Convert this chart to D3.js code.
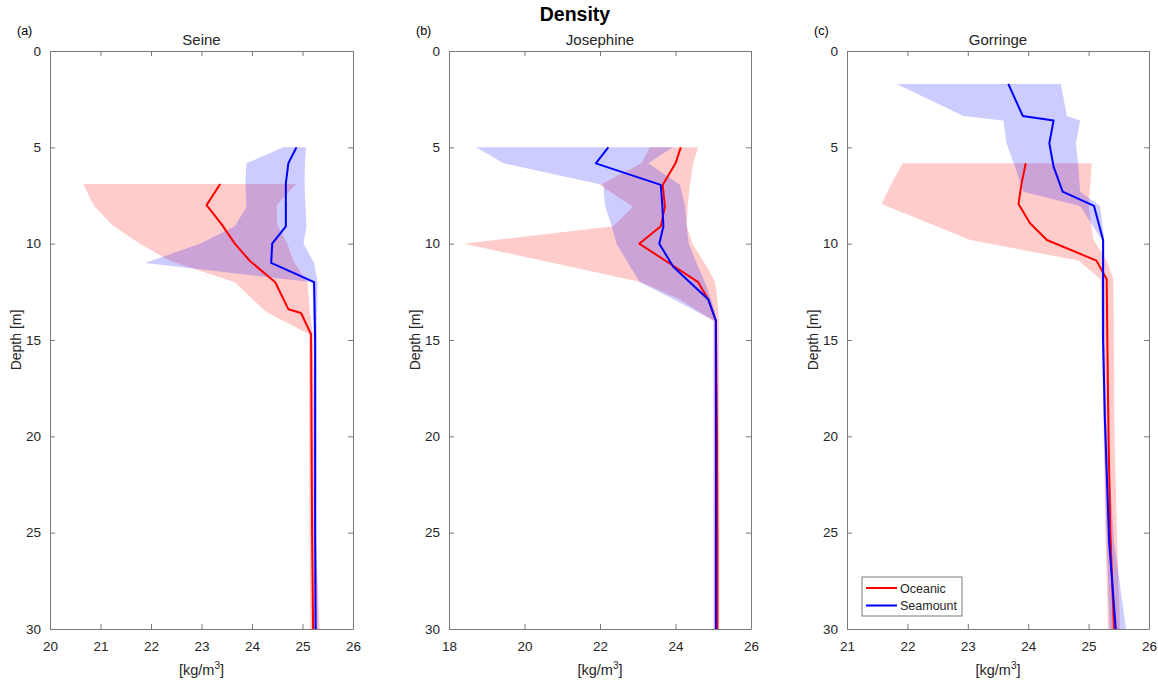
<!DOCTYPE html>
<html>
<head>
<meta charset="utf-8">
<script src="https://cdn.jsdelivr.net/npm/d3@7"></script>
<style>
  body { margin: 0; background: #fff; }
  text { font-family: "Liberation Sans", Arial, sans-serif; fill: #262626; }
</style>
</head>
<body>
<div id="chart"></div>
<script>
'use strict'

// ---- data ----
// depth tick labels (shared)
const depthTicks = [0, 5, 10, 15, 20, 25, 30]

// (a) Seine
const seineTicks = [20, 21, 22, 23, 24, 25, 26]
const seineOceDepth = [6.9, 8.0, 9.0, 10.0, 10.9, 12.0, 13.4, 13.6, 14.7, 20, 25, 30]
const seineOceMean  = [23.37, 23.10, 23.40, 23.66, 23.96, 24.46, 24.72, 24.97, 25.17, 25.18, 25.19, 25.21]
const seineOceLo    = [20.66, 20.86, 21.22, 21.78, 22.38, 23.66, 24.22, 24.32, 25.13, 25.13, 25.14, 25.15]
const seineOceHi    = [24.87, 24.49, 24.50, 24.70, 24.82, 25.10, 25.14, 25.15, 25.20, 25.24, 25.26, 25.34]
const seineSeaDepth = [5.0, 5.83, 6.87, 8.1, 9.1, 10.0, 11.0, 12.0, 15, 20, 25, 30]
const seineSeaMean  = [24.88, 24.72, 24.67, 24.67, 24.67, 24.40, 24.38, 25.23, 25.25, 25.25, 25.25, 25.26]
const seineSeaLo    = [24.62, 23.89, 23.87, 23.89, 23.66, 22.97, 21.88, 25.20, 25.22, 25.22, 25.22, 25.22]
const seineSeaHi    = [25.07, 25.05, 25.04, 25.06, 25.08, 25.02, 25.23, 25.30, 25.28, 25.28, 25.28, 25.30]

// (b) Josephine
const josephineTicks = [18, 20, 22, 24, 26]
const josephineOceDepth = [5.0, 5.83, 6.95, 8.08, 9.1, 10.0, 11.2, 12.0, 12.9, 14.0, 20, 25, 30]
const josephineOceMean  = [24.14, 24.00, 23.66, 23.72, 23.61, 23.04, 23.98, 24.60, 24.87, 25.07, 25.10, 25.11, 25.11]
const josephineOceLo    = [23.32, 23.10, 22.00, 22.87, 22.35, 18.40, 21.22, 23.10, 24.12, 25.00, 25.00, 25.00, 25.00]
const josephineOceHi    = [24.60, 24.47, 24.38, 24.32, 24.30, 24.45, 24.83, 25.05, 25.11, 25.15, 25.16, 25.16, 25.16]
const josephineSeaDepth = [5.0, 5.83, 6.95, 8.0, 9.1, 10.0, 11.2, 12.0, 12.9, 14.0, 20, 25, 30]
const josephineSeaMean  = [22.22, 21.89, 23.61, 23.65, 23.68, 23.57, 23.94, 24.38, 24.87, 25.07, 25.07, 25.07, 25.07]
const josephineSeaLo    = [18.72, 19.44, 22.09, 22.13, 22.31, 22.44, 22.80, 23.06, 23.96, 25.02, 25.04, 25.04, 25.04]
const josephineSeaHi    = [23.93, 23.28, 24.12, 24.25, 24.30, 24.35, 24.60, 24.78, 24.95, 25.10, 25.10, 25.10, 25.10]

// (c) Gorringe
const gorringeTicks = [21, 22, 23, 24, 25, 26]
const gorringeOceDepth = [5.83, 6.87, 7.94, 8.94, 9.81, 10.88, 11.85, 15, 20, 25, 30]
const gorringeOceMean  = [23.96, 23.89, 23.84, 24.03, 24.31, 25.13, 25.30, 25.31, 25.33, 25.36, 25.42]
const gorringeOceLo    = [21.92, 21.74, 21.57, 22.36, 23.04, 24.83, 25.20, 25.22, 25.25, 25.28, 25.32]
const gorringeOceHi    = [25.05, 25.03, 25.00, 25.04, 25.08, 25.30, 25.41, 25.42, 25.43, 25.47, 25.52]
const gorringeSeaDepth = [1.71, 3.37, 3.61, 4.79, 6.0, 7.3, 8.04, 9.81, 15, 19.15, 25.46, 30]
const gorringeSeaMean  = [23.67, 23.91, 24.42, 24.35, 24.42, 24.57, 25.09, 25.24, 25.24, 25.27, 25.34, 25.45]
const gorringeSeaLo    = [21.82, 22.93, 23.59, 23.64, 23.78, 23.92, 24.86, 25.22, 25.22, 25.25, 25.30, 25.35]
const gorringeSeaHi    = [24.54, 24.64, 24.86, 24.79, 24.83, 24.86, 25.19, 25.26, 25.26, 25.29, 25.42, 25.62]

const seriesNames = ['Oceanic', 'Seamount']
const seriesColors = ['#ff0000', '#0000ff']

// zip depth + mean + lo + hi into row objects
const rows = (dep, mean, lo, hi) => dep.map((d, i) => ({ depth: d, mean: mean[i], lo: lo[i], hi: hi[i] }))

const panels = [
  { tag: '(a)', name: 'Seine', ticks: seineTicks, left: 50, right: 353,
    oce: rows(seineOceDepth, seineOceMean, seineOceLo, seineOceHi),
    sea: rows(seineSeaDepth, seineSeaMean, seineSeaLo, seineSeaHi) },
  { tag: '(b)', name: 'Josephine', ticks: josephineTicks, left: 449, right: 751,
    oce: rows(josephineOceDepth, josephineOceMean, josephineOceLo, josephineOceHi),
    sea: rows(josephineSeaDepth, josephineSeaMean, josephineSeaLo, josephineSeaHi) },
  { tag: '(c)', name: 'Gorringe', ticks: gorringeTicks, left: 847, right: 1149,
    oce: rows(gorringeOceDepth, gorringeOceMean, gorringeOceLo, gorringeOceHi),
    sea: rows(gorringeSeaDepth, gorringeSeaMean, gorringeSeaLo, gorringeSeaHi) }
]

// ---- layout ----
const W = 1158, H = 681
const plotTop = 51, plotBottom = 629
const axisColor = '#7a7a7a'
const tickLen = 5

const svg = d3.select('#chart').append('svg')
  .attr('width', W).attr('height', H)

svg.append('text')
  .attr('x', 575).attr('y', 21)
  .attr('text-anchor', 'middle')
  .style('font-size', '19.5px').style('font-weight', 'bold')
  .style('fill', '#000')
  .text('Density')

panels.forEach((p, pi) => {
  const x = d3.scaleLinear().domain([p.ticks[0], p.ticks[p.ticks.length - 1]]).range([p.left, p.right])
  const y = d3.scaleLinear().domain([0, 30]).range([plotTop, plotBottom])
  const g = svg.append('g')

  const clipId = 'clip' + pi
  g.append('clipPath').attr('id', clipId).append('rect')
    .attr('x', p.left).attr('y', plotTop).attr('width', p.right - p.left).attr('height', plotBottom - plotTop)

  const plot = g.append('g').attr('clip-path', `url(#${clipId})`)

  const band = d3.area()
    .y(d => y(d.depth))
    .x0(d => x(d.lo))
    .x1(d => x(d.hi))
  const line = d3.line()
    .x(d => x(d.mean))
    .y(d => y(d.depth))

  // shaded ranges first, then the mean profiles
  const sets = [p.oce, p.sea]
  sets.forEach((s, si) => {
    plot.append('path').datum(s)
      .attr('d', band)
      .attr('fill', seriesColors[si])
      .attr('fill-opacity', 0.2)
      .attr('stroke', 'none')
  })
  sets.forEach((s, si) => {
    plot.append('path').datum(s)
      .attr('d', line)
      .attr('fill', 'none')
      .attr('stroke', seriesColors[si])
      .attr('stroke-width', 2)
      .attr('stroke-linejoin', 'round')
  })

  // axes: bottom/left with labels, top/right mirrored ticks (box on)
  const styleAxis = (sel) => {
    sel.select('.domain').attr('stroke', axisColor)
    sel.selectAll('.tick line').attr('stroke', axisColor)
    sel.selectAll('.tick text').style('font-size', '13.5px').style('fill', '#262626')
  }
  g.append('g').attr('transform', `translate(0,${plotBottom})`)
    .call(d3.axisBottom(x).tickValues(p.ticks).tickSize(-tickLen).tickSizeOuter(0).tickPadding(12).tickFormat(d3.format('d')))
    .call(styleAxis)
  g.append('g').attr('transform', `translate(0,${plotTop})`)
    .call(d3.axisTop(x).tickValues(p.ticks).tickSize(-tickLen).tickSizeOuter(0).tickFormat(''))
    .call(styleAxis)
  g.append('g').attr('transform', `translate(${p.left},0)`)
    .call(d3.axisLeft(y).tickValues(depthTicks).tickSize(-tickLen).tickSizeOuter(0).tickPadding(9).tickFormat(d3.format('d')))
    .call(styleAxis)
  g.append('g').attr('transform', `translate(${p.right},0)`)
    .call(d3.axisRight(y).tickValues(depthTicks).tickSize(-tickLen).tickSizeOuter(0).tickFormat(''))
    .call(styleAxis)

  const cx = (p.left + p.right) / 2
  // subplot title + panel tag
  g.append('text').attr('x', cx).attr('y', 45)
    .attr('text-anchor', 'middle').style('font-size', '15px')
    .text(p.name)
  g.append('text').attr('x', p.left - 33).attr('y', 35)
    .style('font-size', '12.5px').style('fill', '#000')
    .text(p.tag)

  // axis titles
  g.append('text')
    .attr('transform', `translate(${p.left - 29},${(plotTop + plotBottom) / 2}) rotate(-90)`)
    .attr('text-anchor', 'middle').style('font-size', '14px')
    .text('Depth [m]')
  const xl = g.append('text').attr('x', cx).attr('y', 675)
    .attr('text-anchor', 'middle').style('font-size', '14.5px')
  xl.append('tspan').text('[kg/m')
  xl.append('tspan').attr('dy', -6).style('font-size', '10px').text('3')
  xl.append('tspan').attr('dy', 6).text(']')

  // legend only in the last panel
  if (pi === panels.length - 1) {
    const lg = g.append('g').attr('transform', 'translate(862,577)')
    lg.append('rect').attr('width', 100).attr('height', 39)
      .attr('fill', '#fff').attr('stroke', axisColor)
    seriesNames.forEach((n, i) => {
      const ly = 11 + i * 17.5
      lg.append('line').attr('x1', 4).attr('x2', 35).attr('y1', ly).attr('y2', ly)
        .attr('stroke', seriesColors[i]).attr('stroke-width', 2)
      lg.append('text').attr('x', 38).attr('y', ly + 4.5)
        .style('font-size', '12.5px').text(n)
    })
  }
})
</script>
</body>
</html>
